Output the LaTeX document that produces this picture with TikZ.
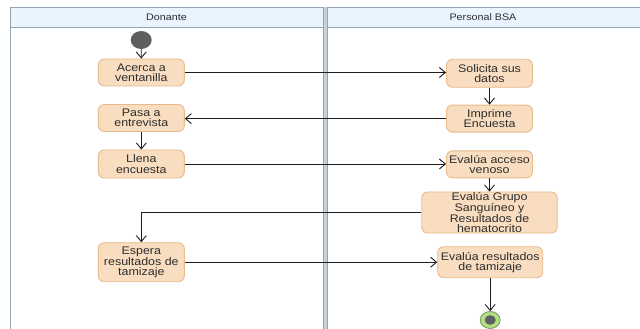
\documentclass[tikz,border=0pt]{standalone}
\usepackage{fontspec}
\usetikzlibrary{arrows.meta,shapes.geometric}
\newfontfamily\lanefont[FakeStretch=1.13]{Liberation Sans}
\definecolor{actfill}{RGB}{249,221,192}
\definecolor{actdraw}{RGB}{233,186,138}
\definecolor{headfill}{RGB}{233,244,255}
\definecolor{laneline}{RGB}{150,165,180}
\definecolor{lanegap}{RGB}{200,208,216}
\definecolor{txt}{RGB}{45,45,45}
\definecolor{flow}{RGB}{30,30,30}
\definecolor{endfill}{RGB}{180,222,130}
\definecolor{enddraw}{RGB}{120,150,100}
\definecolor{dot}{RGB}{95,95,95}
\tikzset{
  action/.style={draw=actdraw, line width=0.9pt, fill=actfill, rounded corners=6pt,
    align=center, inner sep=0pt, text=txt,
    font=\lanefont\fontsize{11}{10.2}\selectfont},
  flowline/.style={draw=flow, line width=0.9pt,
    -{Straight Barb[length=6pt,width=10pt,line width=0.9pt]}},
  lanetitle/.style={text=txt, font=\lanefont\fontsize{9.5}{10}\selectfont}
}
\begin{document}
\begin{tikzpicture}[x=1pt,y=-1pt]
\useasboundingbox (0,0) rectangle (640,329);
\fill[white] (0,0) rectangle (640,329);

% swimlane headers
\fill[headfill] (10,7.5) rectangle (640,27);
\draw[laneline, line width=0.9pt] (640,7.5) -- (10,7.5) -- (10,329);
\draw[laneline, line width=0.9pt] (10,27) -- (640,27);
% lane separator
\fill[lanegap] (323,7.5) rectangle (327,329);
\draw[laneline, line width=0.8pt] (323,7.5) -- (323,329);
\draw[laneline, line width=0.8pt] (327,7.5) -- (327,329);
\node[lanetitle] (lane1) at (166.5,17.5) {Donante};
\node[lanetitle] (lane2) at (483,17.5) {Personal BSA};

% start and end
\node[ellipse, fill=dot, minimum width=21pt, minimum height=18pt, inner sep=0pt] (start) at (141.2,40) {};
\node[ellipse, draw=enddraw, line width=0.8pt, fill=endfill, minimum width=20pt, minimum height=17pt, inner sep=0pt] (end) at (490.2,320) {};
\fill[dot] (end.center) ellipse (5.5pt and 4.8pt);

% Donante activities
\node[action, minimum width=86pt, minimum height=27pt] (acerca) at (141.3,72.5) {Acerca a\\ventanilla};
\node[action, minimum width=86pt, minimum height=27pt] (pasa) at (141.3,118) {Pasa a\\entrevista};
\node[action, minimum width=86pt, minimum height=28pt] (llena) at (141.3,164) {Llena\\encuesta};
\node[action, minimum width=86pt, minimum height=39pt] (espera) at (141.3,262.2) {Espera\\resultados de\\tamizaje};

% Personal BSA activities
\node[action, minimum width=86pt, minimum height=28pt] (solicita) at (489.5,73.3) {Solicita sus\\datos};
\node[action, minimum width=86pt, minimum height=27pt] (imprime) at (489.5,118.6) {Imprime\\Encuesta};
\node[action, minimum width=86pt, minimum height=27pt] (acceso) at (489.5,164.3) {Evalúa acceso\\venoso};
\node[action, minimum width=135.5pt, minimum height=39.5pt] (grupo) at (489.5,212.5) {Evalúa Grupo\\Sanguíneo y\\Resultados de\\hematocrito};
\node[action, minimum width=105pt, minimum height=31pt] (evalres) at (490.2,262.2) {Evalúa resultados\\de tamizaje};

% control flow
\draw[flowline] (start) -- (acerca);
\draw[flowline] (acerca) -- (solicita.west |- acerca);
\draw[flowline] (solicita) -- (imprime);
\draw[flowline] (imprime) -- (pasa.east |- imprime);
\draw[flowline] (pasa) -- (llena);
\draw[flowline] (llena) -- (acceso.west |- llena);
\draw[flowline] (acceso) -- (grupo);
\draw[flowline] (grupo.west) -| (espera.north);
\draw[flowline] (espera) -- (evalres);
\draw[flowline] (evalres) -- (end);
\end{tikzpicture}
\end{document}
